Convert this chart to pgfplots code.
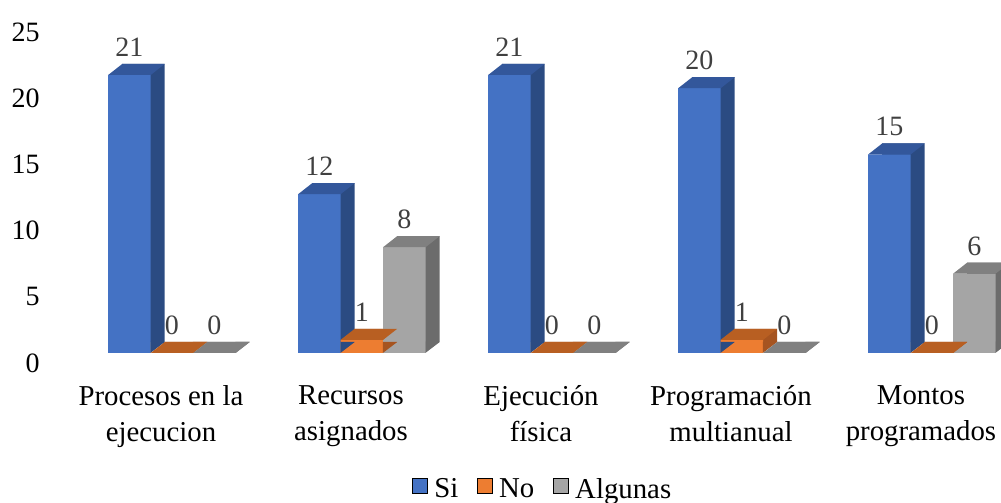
\documentclass[border=0pt]{standalone}
\usepackage{pgfplots}
\usepackage{pgfplotstable}
\pgfplotsset{compat=1.18}
\usepackage{fontspec}
\setmainfont{Liberation Serif}

\definecolor{siFront}{HTML}{4472C4}
\definecolor{siSide}{HTML}{2B4B82}
\definecolor{siTop}{HTML}{33579B}
\definecolor{noFront}{HTML}{ED7D31}
\definecolor{noSide}{HTML}{A65420}
\definecolor{noTop}{HTML}{B85F22}
\definecolor{alFront}{HTML}{A5A5A5}
\definecolor{alSide}{HTML}{6C6C6C}
\definecolor{alTop}{HTML}{808080}
\definecolor{valtext}{HTML}{404040}

% 1px of the reference = 0.75pt
\newcommand{\bw}{31.875pt}
\newcommand{\dx}{10.5pt}
\newcommand{\dy}{8.25pt}

% top face of a 3D bar, drawn at the top centre of the front face
\pgfdeclareplotmark{topface}{%
  \pgfpathmoveto{\pgfpoint{-15.9375pt}{0pt}}%
  \pgfpathlineto{\pgfpoint{15.9375pt}{0pt}}%
  \pgfpathlineto{\pgfpoint{26.4375pt}{8.25pt}}%
  \pgfpathlineto{\pgfpoint{-5.4375pt}{8.25pt}}%
  \pgfpathclose\pgfusepathqfill}
% lower corner of the side face, drawn at the base of the bar
\pgfdeclareplotmark{sidebot}{%
  \pgfpathmoveto{\pgfpoint{15.6pt}{0pt}}%
  \pgfpathlineto{\pgfpoint{26.4375pt}{8.25pt}}%
  \pgfpathlineto{\pgfpoint{15.6pt}{8.4pt}}%
  \pgfpathclose\pgfusepathqfill}

\pgfplotstableread{
x Si No Algunas
0 21 0 0
1 12 1 8
2 21 0 0
3 20 1 0
4 15 0 6
}\datos

% one series: column, bar shift, front, side, top colours
\newcommand{\bars}[5]{%
  \addplot[ybar, bar width=\bw, bar shift=#2, fill=#4, draw=none,
    xshift=\dx, yshift=\dy, forget plot] table[x=x, y=#1]{\datos};
  \addplot[only marks, mark=sidebot, color=#4, mark options={fill=#4, draw=none},
    xshift=#2, forget plot] table[x=x, y expr=0]{\datos};
  \addplot[ybar, bar width=\bw, bar shift=#2, fill=#3, draw=none, forget plot,
    nodes near coords, every node near coord/.append style={xshift=#2}]
    table[x=x, y=#1]{\datos};
  \addplot[only marks, mark=topface, color=#5, mark options={fill=#5, draw=none},
    xshift=#2, forget plot] table[x=x, y=#1]{\datos};
}

\begin{document}
\begin{tikzpicture}
\useasboundingbox (-37.5pt,-112.5pt) rectangle (713.25pt,264.75pt);
\begin{axis}[
  at={(0pt,0pt)}, anchor=south west,
  scale only axis,
  width=713.25pt, height=248.25pt,
  xmin=-0.6421, xmax=4.3632,
  ymin=0, ymax=25,
  clip=false,
  axis line style={draw=none},
  major tick length=0pt,
  xtick={0,1,2,3,4},
  xticklabels={Procesos en la\\ejecucion, Recursos\\asignados, Ejecución\\física,
    Programación\\multianual, Montos\\programados},
  xticklabel style={anchor=north, align=center, inner sep=0pt,
    xshift=-8.25pt, yshift=-24.5pt,
    font=\fontsize{21.6}{26.5}\selectfont},
  ytick={0,5,10,15,20,25},
  yticklabel style={anchor=east, inner sep=0pt, xshift=-7.5pt, yshift=-7.5pt,
    font=\fontsize{21}{25}\selectfont},
  /pgf/number format/assume math mode=true,
  nodes near coords style={anchor=south, inner sep=0pt, yshift=13.5pt,
    font=\fontsize{21}{25}\selectfont, text=valtext},
  legend image code/.code={\fill[#1] (0pt,-2.6pt) rectangle (11.25pt,8.65pt);},
  legend columns=3,
  legend style={at={(0.5184,-0.412)}, anchor=center, draw=none, fill=none,
    inner sep=0pt, font=\fontsize{21.6}{25}\selectfont,
    /tikz/every odd column/.style={column sep=3pt},
    /tikz/every even column/.style={column sep=12pt}},
]
\bars{Si}{-31.875pt}{siFront}{siSide}{siTop}
\bars{No}{0pt}{noFront}{noSide}{noTop}
\bars{Algunas}{31.875pt}{alFront}{alSide}{alTop}
\addlegendimage{fill=siFront}
\addlegendentry{Si}
\addlegendimage{fill=noFront}
\addlegendentry{No}
\addlegendimage{fill=alFront}
\addlegendentry{Algunas}
\end{axis}
\end{tikzpicture}
\end{document}
